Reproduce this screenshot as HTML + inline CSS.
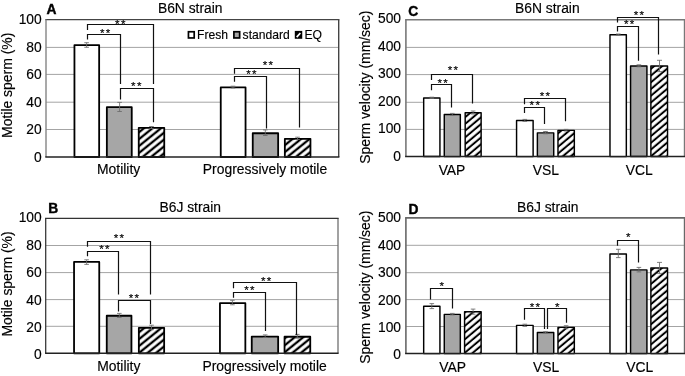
<!DOCTYPE html>
<html><head><meta charset="utf-8"><title>Figure</title>
<style>html,body{margin:0;padding:0;background:#fff;overflow:hidden}svg{display:block}text{font-family:"Liberation Sans", sans-serif;fill:#000;stroke:#000;stroke-width:.15px}</style>
</head><body>
<svg width="685" height="376" viewBox="0 0 685 376">
<defs><pattern id="hatch" patternUnits="userSpaceOnUse" width="5.36" height="5.36" patternTransform="rotate(-39)"><rect width="5.36" height="5.36" fill="#fff"/><rect y="1.5" width="5.36" height="2.3" fill="#000"/></pattern><pattern id="hatch2" patternUnits="userSpaceOnUse" width="5.15" height="5.15" patternTransform="rotate(-40)"><rect width="5.15" height="5.15" fill="#fff"/><rect y="1.5" width="5.15" height="2.0" fill="#000"/></pattern></defs>
<rect width="685" height="376" fill="#fff"/>
<line x1="46" y1="47.40" x2="338.7" y2="47.40" stroke="#a4a4a4" stroke-width="1"/>
<line x1="46" y1="74.40" x2="338.7" y2="74.40" stroke="#a4a4a4" stroke-width="1"/>
<line x1="46" y1="102.20" x2="338.7" y2="102.20" stroke="#a4a4a4" stroke-width="1"/>
<line x1="46" y1="129.50" x2="338.7" y2="129.50" stroke="#a4a4a4" stroke-width="1"/>
<path d="M338.7 19.6V157.0" fill="none" stroke="#444" stroke-width="1.4"/>
<path d="M45.3 19.6H339.4" fill="none" stroke="#444" stroke-width="1.4"/>
<text transform="translate(41.70 24.25) scale(1.0 1)" text-anchor="end" font-size="13.8">100</text>
<text transform="translate(41.70 51.75) scale(1.0 1)" text-anchor="end" font-size="13.8">80</text>
<text transform="translate(41.70 79.25) scale(1.0 1)" text-anchor="end" font-size="13.8">60</text>
<text transform="translate(41.70 106.75) scale(1.0 1)" text-anchor="end" font-size="13.8">40</text>
<text transform="translate(41.70 134.25) scale(1.0 1)" text-anchor="end" font-size="13.8">20</text>
<text transform="translate(41.70 161.75) scale(1.0 1)" text-anchor="end" font-size="13.8">0</text>
<rect x="74.45" y="45.05" width="24.70" height="111.95" fill="#fff" stroke="#000" stroke-width="1.8" stroke-linejoin="round"/>
<rect x="106.85" y="107.15" width="24.90" height="49.85" fill="#a6a6a6" stroke="#000" stroke-width="1.8" stroke-linejoin="round"/>
<rect x="138.75" y="127.85" width="25.50" height="29.15" fill="url(#hatch)" stroke="#000" stroke-width="1.8" stroke-linejoin="round"/>
<rect x="220.75" y="87.45" width="24.80" height="69.55" fill="#fff" stroke="#000" stroke-width="1.8" stroke-linejoin="round"/>
<rect x="252.75" y="133.25" width="25.40" height="23.75" fill="#a6a6a6" stroke="#000" stroke-width="1.8" stroke-linejoin="round"/>
<rect x="284.85" y="138.85" width="25.60" height="18.15" fill="url(#hatch)" stroke="#000" stroke-width="1.8" stroke-linejoin="round"/>
<path d="M46 19.6V157.0" fill="none" stroke="#858585" stroke-width="1.4"/>
<path d="M45.3 157.0H339.4" fill="none" stroke="#222" stroke-width="1.5"/>
<path d="M84.30 42.70h4.6M84.30 47.30h4.6M86.60 42.70V47.30" fill="none" stroke="#6c6c6c" stroke-width="0.85"/>
<path d="M117.30 102.40h4.6M117.30 111.50h4.6M119.60 102.40V111.50" fill="none" stroke="#6c6c6c" stroke-width="0.85"/>
<path d="M149.20 126.50h4.6M149.20 128.50h4.6M151.50 126.50V128.50" fill="none" stroke="#6c6c6c" stroke-width="0.85"/>
<path d="M230.70 86.20h4.6M230.70 88.00h4.6M233.00 86.20V88.00" fill="none" stroke="#6c6c6c" stroke-width="0.85"/>
<path d="M263.00 129.90h4.6M263.00 135.50h4.6M265.30 129.90V135.50" fill="none" stroke="#6c6c6c" stroke-width="0.85"/>
<path d="M295.20 137.20h4.6M295.20 139.50h4.6M297.50 137.20V139.50" fill="none" stroke="#6c6c6c" stroke-width="0.85"/>
<path d="M87.50 30.10V24.50H153.50V84.00" fill="none" stroke="#111" stroke-width="1.2"/>
<path d="M87.50 39.40V34.50H120.50V84.00" fill="none" stroke="#111" stroke-width="1.2"/>
<path d="M120.50 99.40V88.50H153.50V122.20" fill="none" stroke="#111" stroke-width="1.2"/>
<path d="M234.50 73.70V68.50H299.50V127.60" fill="none" stroke="#111" stroke-width="1.2"/>
<path d="M234.50 81.80V76.50H266.50V128.40" fill="none" stroke="#111" stroke-width="1.2"/>
<text transform="translate(120.90 28.10) scale(1 1)" text-anchor="middle" letter-spacing="1.3" font-size="11.6">**</text>
<text transform="translate(105.70 37.20) scale(1 1)" text-anchor="middle" letter-spacing="1.3" font-size="11.6">**</text>
<text transform="translate(136.90 89.90) scale(1 1)" text-anchor="middle" letter-spacing="1.3" font-size="11.6">**</text>
<text transform="translate(268.60 68.90) scale(1 1)" text-anchor="middle" letter-spacing="1.3" font-size="11.6">**</text>
<text transform="translate(252.10 78.10) scale(1 1)" text-anchor="middle" letter-spacing="1.3" font-size="11.6">**</text>
<text transform="translate(118.60 174.00) scale(1.0 1)" text-anchor="middle" font-size="13.9">Motility</text>
<text transform="translate(265.00 174.00) scale(1.0 1)" text-anchor="middle" font-size="13.9">Progressively motile</text>
<text transform="translate(157.90 12.50) scale(1.0 1)" font-size="13.85">B6N strain</text>
<text transform="translate(46.50 13.70) scale(1.0 1)" font-weight="bold" style="stroke-width:.4px" font-size="13.8">A</text>
<text transform="translate(12.10 85.30) rotate(-90) scale(1.01 1)" text-anchor="middle" font-size="13.8">Motile sperm (%)</text>
<line x1="45.7" y1="245.50" x2="338" y2="245.50" stroke="#a4a4a4" stroke-width="1"/>
<line x1="45.7" y1="272.60" x2="338" y2="272.60" stroke="#a4a4a4" stroke-width="1"/>
<line x1="45.7" y1="299.60" x2="338" y2="299.60" stroke="#a4a4a4" stroke-width="1"/>
<line x1="45.7" y1="326.30" x2="338" y2="326.30" stroke="#a4a4a4" stroke-width="1"/>
<path d="M338 218.3V353.3" fill="none" stroke="#6a6a6a" stroke-width="1.25"/>
<path d="M45.075 218.3H338.625" fill="none" stroke="#333" stroke-width="1.25"/>
<text transform="translate(41.70 222.25) scale(1.0 1)" text-anchor="end" font-size="13.8">100</text>
<text transform="translate(41.70 249.67) scale(1.0 1)" text-anchor="end" font-size="13.8">80</text>
<text transform="translate(41.70 277.09) scale(1.0 1)" text-anchor="end" font-size="13.8">60</text>
<text transform="translate(41.70 304.51) scale(1.0 1)" text-anchor="end" font-size="13.8">40</text>
<text transform="translate(41.70 331.93) scale(1.0 1)" text-anchor="end" font-size="13.8">20</text>
<text transform="translate(41.70 359.35) scale(1.0 1)" text-anchor="end" font-size="13.8">0</text>
<rect x="74.05" y="261.95" width="25.20" height="91.35" fill="#fff" stroke="#000" stroke-width="1.8" stroke-linejoin="round"/>
<rect x="106.75" y="315.75" width="24.70" height="37.55" fill="#a6a6a6" stroke="#000" stroke-width="1.8" stroke-linejoin="round"/>
<rect x="138.85" y="327.85" width="25.30" height="25.45" fill="url(#hatch)" stroke="#000" stroke-width="1.8" stroke-linejoin="round"/>
<rect x="219.95" y="303.15" width="25.40" height="50.15" fill="#fff" stroke="#000" stroke-width="1.8" stroke-linejoin="round"/>
<rect x="251.75" y="336.55" width="26.40" height="16.75" fill="#a6a6a6" stroke="#000" stroke-width="1.8" stroke-linejoin="round"/>
<rect x="284.55" y="336.75" width="25.70" height="16.55" fill="url(#hatch)" stroke="#000" stroke-width="1.8" stroke-linejoin="round"/>
<path d="M45.7 218.3V353.3" fill="none" stroke="#333" stroke-width="1.25"/>
<path d="M45.075 353.3H338.625" fill="none" stroke="#222" stroke-width="1.5"/>
<path d="M84.30 259.80h4.6M84.30 264.40h4.6M86.60 259.80V264.40" fill="none" stroke="#6c6c6c" stroke-width="0.85"/>
<path d="M117.00 313.40h4.6M117.00 317.40h4.6M119.30 313.40V317.40" fill="none" stroke="#6c6c6c" stroke-width="0.85"/>
<path d="M149.20 325.20h4.6M149.20 329.70h4.6M151.50 325.20V329.70" fill="none" stroke="#6c6c6c" stroke-width="0.85"/>
<path d="M230.10 300.30h4.6M230.10 304.80h4.6M232.40 300.30V304.80" fill="none" stroke="#6c6c6c" stroke-width="0.85"/>
<path d="M262.90 334.90h4.6M262.90 337.50h4.6M265.20 334.90V337.50" fill="none" stroke="#6c6c6c" stroke-width="0.85"/>
<path d="M295.00 334.40h4.6M295.00 338.20h4.6M297.30 334.40V338.20" fill="none" stroke="#6c6c6c" stroke-width="0.85"/>
<path d="M87.50 246.80V241.50H150.50V294.50" fill="none" stroke="#111" stroke-width="1.2"/>
<path d="M87.50 256.30V251.50H118.50V294.50" fill="none" stroke="#111" stroke-width="1.2"/>
<path d="M118.50 311.40V300.50H150.50V324.00" fill="none" stroke="#111" stroke-width="1.2"/>
<path d="M233.50 288.20V282.50H296.50V334.90" fill="none" stroke="#111" stroke-width="1.2"/>
<path d="M233.50 297.80V292.50H265.50V331.10" fill="none" stroke="#111" stroke-width="1.2"/>
<text transform="translate(119.60 241.90) scale(1 1)" text-anchor="middle" letter-spacing="1.3" font-size="11.6">**</text>
<text transform="translate(105.10 253.10) scale(1 1)" text-anchor="middle" letter-spacing="1.3" font-size="11.6">**</text>
<text transform="translate(134.60 301.50) scale(1 1)" text-anchor="middle" letter-spacing="1.3" font-size="11.6">**</text>
<text transform="translate(266.80 284.50) scale(1 1)" text-anchor="middle" letter-spacing="1.3" font-size="11.6">**</text>
<text transform="translate(250.10 294.10) scale(1 1)" text-anchor="middle" letter-spacing="1.3" font-size="11.6">**</text>
<text transform="translate(118.80 371.00) scale(1.0 1)" text-anchor="middle" font-size="13.9">Motility</text>
<text transform="translate(264.60 371.00) scale(1.0 1)" text-anchor="middle" font-size="13.9">Progressively motile</text>
<text transform="translate(159.50 211.80) scale(1.0 1)" font-size="13.85">B6J strain</text>
<text transform="translate(48.30 212.60) scale(1.0 1)" font-weight="bold" style="stroke-width:.4px" font-size="13.8">B</text>
<text transform="translate(12.10 284.00) rotate(-90) scale(1.01 1)" text-anchor="middle" font-size="13.8">Motile sperm (%)</text>
<line x1="405.9" y1="47.40" x2="684.6" y2="47.40" stroke="#a4a4a4" stroke-width="1"/>
<line x1="405.9" y1="74.60" x2="684.6" y2="74.60" stroke="#a4a4a4" stroke-width="1"/>
<line x1="405.9" y1="102.30" x2="684.6" y2="102.30" stroke="#a4a4a4" stroke-width="1"/>
<line x1="405.9" y1="129.40" x2="684.6" y2="129.40" stroke="#a4a4a4" stroke-width="1"/>
<path d="M684.6 19.8V156.6" fill="none" stroke="#787878" stroke-width="1.6"/>
<path d="M405.09999999999997 19.8H685.4" fill="none" stroke="#787878" stroke-width="1.6"/>
<text transform="translate(401.00 23.35) scale(1.0 1)" text-anchor="end" font-size="13.8">500</text>
<text transform="translate(401.00 50.80) scale(1.0 1)" text-anchor="end" font-size="13.8">400</text>
<text transform="translate(401.00 78.25) scale(1.0 1)" text-anchor="end" font-size="13.8">300</text>
<text transform="translate(401.00 105.70) scale(1.0 1)" text-anchor="end" font-size="13.8">200</text>
<text transform="translate(401.00 133.15) scale(1.0 1)" text-anchor="end" font-size="13.8">100</text>
<text transform="translate(401.00 160.60) scale(1.0 1)" text-anchor="end" font-size="13.8">0</text>
<rect x="423.68" y="97.97" width="16.25" height="58.62" fill="#fff" stroke="#000" stroke-width="1.45" stroke-linejoin="round"/>
<rect x="444.28" y="114.58" width="16.05" height="42.02" fill="#a6a6a6" stroke="#000" stroke-width="1.45" stroke-linejoin="round"/>
<rect x="465.18" y="112.77" width="15.95" height="43.82" fill="url(#hatch2)" stroke="#000" stroke-width="1.45" stroke-linejoin="round"/>
<rect x="516.57" y="120.58" width="16.55" height="36.02" fill="#fff" stroke="#000" stroke-width="1.45" stroke-linejoin="round"/>
<rect x="537.38" y="132.87" width="16.35" height="23.73" fill="#a6a6a6" stroke="#000" stroke-width="1.45" stroke-linejoin="round"/>
<rect x="557.98" y="130.37" width="16.35" height="26.23" fill="url(#hatch2)" stroke="#000" stroke-width="1.45" stroke-linejoin="round"/>
<rect x="609.98" y="34.78" width="16.35" height="121.82" fill="#fff" stroke="#000" stroke-width="1.45" stroke-linejoin="round"/>
<rect x="630.57" y="65.97" width="16.35" height="90.62" fill="#a6a6a6" stroke="#000" stroke-width="1.45" stroke-linejoin="round"/>
<rect x="650.88" y="65.97" width="16.65" height="90.62" fill="url(#hatch2)" stroke="#000" stroke-width="1.45" stroke-linejoin="round"/>
<path d="M405.9 19.8V156.6" fill="none" stroke="#787878" stroke-width="1.6"/>
<path d="M405.09999999999997 156.6H685.4" fill="none" stroke="#222" stroke-width="1.5"/>
<path d="M429.50 97.20h4.6M429.50 98.40h4.6M431.80 97.20V98.40" fill="none" stroke="#6c6c6c" stroke-width="0.85"/>
<path d="M450.00 113.40h4.6M450.00 115.40h4.6M452.30 113.40V115.40" fill="none" stroke="#6c6c6c" stroke-width="0.85"/>
<path d="M470.80 111.00h4.6M470.80 114.00h4.6M473.10 111.00V114.00" fill="none" stroke="#6c6c6c" stroke-width="0.85"/>
<path d="M522.50 119.40h4.6M522.50 121.40h4.6M524.80 119.40V121.40" fill="none" stroke="#6c6c6c" stroke-width="0.85"/>
<path d="M543.20 131.50h4.6M543.20 133.80h4.6M545.50 131.50V133.80" fill="none" stroke="#6c6c6c" stroke-width="0.85"/>
<path d="M563.80 129.40h4.6M563.80 131.00h4.6M566.10 129.40V131.00" fill="none" stroke="#6c6c6c" stroke-width="0.85"/>
<path d="M616.00 34.00h4.6M616.00 35.20h4.6M618.30 34.00V35.20" fill="none" stroke="#6c6c6c" stroke-width="0.85"/>
<path d="M636.60 64.80h4.6M636.60 66.80h4.6M638.90 64.80V66.80" fill="none" stroke="#6c6c6c" stroke-width="0.85"/>
<path d="M657.00 60.30h5M657.00 71.60h5M659.50 60.30V71.60" fill="none" stroke="#6c6c6c" stroke-width="0.85"/>
<path d="M431.50 80.10V74.50H472.50V103.50" fill="none" stroke="#111" stroke-width="1.2"/>
<path d="M431.50 90.20V84.50H451.50V107.50" fill="none" stroke="#111" stroke-width="1.2"/>
<path d="M524.50 104.30V98.50H565.50V121.20" fill="none" stroke="#111" stroke-width="1.2"/>
<path d="M524.50 113.10V107.50H544.50V123.90" fill="none" stroke="#111" stroke-width="1.2"/>
<path d="M617.50 22.60V17.50H658.50V54.50" fill="none" stroke="#111" stroke-width="1.2"/>
<path d="M617.50 31.40V26.50H638.50V60.80" fill="none" stroke="#111" stroke-width="1.2"/>
<text transform="translate(453.60 74.40) scale(1 1)" text-anchor="middle" letter-spacing="1.3" font-size="11.6">**</text>
<text transform="translate(443.30 87.30) scale(1 1)" text-anchor="middle" letter-spacing="1.3" font-size="11.6">**</text>
<text transform="translate(545.60 99.50) scale(1 1)" text-anchor="middle" letter-spacing="1.3" font-size="11.6">**</text>
<text transform="translate(535.40 108.50) scale(1 1)" text-anchor="middle" letter-spacing="1.3" font-size="11.6">**</text>
<text transform="translate(639.50 18.70) scale(1 1)" text-anchor="middle" letter-spacing="1.3" font-size="11.6">**</text>
<text transform="translate(629.80 27.70) scale(1 1)" text-anchor="middle" letter-spacing="1.3" font-size="11.6">**</text>
<text transform="translate(452.00 175.00) scale(1.0 1)" text-anchor="middle" font-size="13.9">VAP</text>
<text transform="translate(545.90 175.00) scale(1.0 1)" text-anchor="middle" font-size="13.9">VSL</text>
<text transform="translate(639.30 175.00) scale(1.0 1)" text-anchor="middle" font-size="13.9">VCL</text>
<text transform="translate(515.00 12.60) scale(1.0 1)" font-size="13.85">B6N strain</text>
<text transform="translate(408.30 15.60) scale(1.0 1)" font-weight="bold" style="stroke-width:.4px" font-size="13.8">C</text>
<text transform="translate(370.00 87.20) rotate(-90) scale(1.01 1)" text-anchor="middle" font-size="13.8">Sperm velocity (mm/sec)</text>
<line x1="405.9" y1="245.30" x2="684.6" y2="245.30" stroke="#a4a4a4" stroke-width="1"/>
<line x1="405.9" y1="272.70" x2="684.6" y2="272.70" stroke="#a4a4a4" stroke-width="1"/>
<line x1="405.9" y1="299.60" x2="684.6" y2="299.60" stroke="#a4a4a4" stroke-width="1"/>
<line x1="405.9" y1="326.50" x2="684.6" y2="326.50" stroke="#a4a4a4" stroke-width="1"/>
<path d="M684.6 217.9V353.6" fill="none" stroke="#686868" stroke-width="1.6"/>
<path d="M405.09999999999997 217.9H685.4" fill="none" stroke="#686868" stroke-width="1.6"/>
<text transform="translate(401.00 222.25) scale(1.0 1)" text-anchor="end" font-size="13.8">500</text>
<text transform="translate(401.00 249.67) scale(1.0 1)" text-anchor="end" font-size="13.8">400</text>
<text transform="translate(401.00 277.09) scale(1.0 1)" text-anchor="end" font-size="13.8">300</text>
<text transform="translate(401.00 304.51) scale(1.0 1)" text-anchor="end" font-size="13.8">200</text>
<text transform="translate(401.00 331.93) scale(1.0 1)" text-anchor="end" font-size="13.8">100</text>
<text transform="translate(401.00 359.35) scale(1.0 1)" text-anchor="end" font-size="13.8">0</text>
<rect x="423.68" y="306.28" width="16.25" height="47.33" fill="#fff" stroke="#000" stroke-width="1.45" stroke-linejoin="round"/>
<rect x="444.28" y="314.38" width="16.05" height="39.23" fill="#a6a6a6" stroke="#000" stroke-width="1.45" stroke-linejoin="round"/>
<rect x="464.58" y="311.78" width="16.55" height="41.83" fill="url(#hatch2)" stroke="#000" stroke-width="1.45" stroke-linejoin="round"/>
<rect x="516.57" y="325.38" width="16.55" height="28.23" fill="#fff" stroke="#000" stroke-width="1.45" stroke-linejoin="round"/>
<rect x="537.38" y="332.48" width="16.35" height="21.13" fill="#a6a6a6" stroke="#000" stroke-width="1.45" stroke-linejoin="round"/>
<rect x="557.98" y="327.38" width="16.35" height="26.23" fill="url(#hatch2)" stroke="#000" stroke-width="1.45" stroke-linejoin="round"/>
<rect x="609.98" y="253.97" width="16.35" height="99.63" fill="#fff" stroke="#000" stroke-width="1.45" stroke-linejoin="round"/>
<rect x="630.57" y="269.88" width="16.35" height="83.73" fill="#a6a6a6" stroke="#000" stroke-width="1.45" stroke-linejoin="round"/>
<rect x="650.88" y="268.07" width="16.65" height="85.53" fill="url(#hatch2)" stroke="#000" stroke-width="1.45" stroke-linejoin="round"/>
<path d="M405.9 217.9V353.6" fill="none" stroke="#686868" stroke-width="1.6"/>
<path d="M405.09999999999997 353.6H685.4" fill="none" stroke="#222" stroke-width="1.5"/>
<path d="M429.50 303.60h4.6M429.50 308.60h4.6M431.80 303.60V308.60" fill="none" stroke="#6c6c6c" stroke-width="0.85"/>
<path d="M450.00 313.40h4.6M450.00 314.90h4.6M452.30 313.40V314.90" fill="none" stroke="#6c6c6c" stroke-width="0.85"/>
<path d="M470.80 309.10h4.6M470.80 314.20h4.6M473.10 309.10V314.20" fill="none" stroke="#6c6c6c" stroke-width="0.85"/>
<path d="M522.50 324.20h4.6M522.50 326.40h4.6M524.80 324.20V326.40" fill="none" stroke="#6c6c6c" stroke-width="0.85"/>
<path d="M543.20 331.70h4.6M543.20 333.00h4.6M545.50 331.70V333.00" fill="none" stroke="#6c6c6c" stroke-width="0.85"/>
<path d="M563.80 325.70h4.6M563.80 328.70h4.6M566.10 325.70V328.70" fill="none" stroke="#6c6c6c" stroke-width="0.85"/>
<path d="M616.00 249.30h4.6M616.00 257.60h4.6M618.30 249.30V257.60" fill="none" stroke="#6c6c6c" stroke-width="0.85"/>
<path d="M636.60 267.40h4.6M636.60 271.90h4.6M638.90 267.40V271.90" fill="none" stroke="#6c6c6c" stroke-width="0.85"/>
<path d="M657.00 262.40h5M657.00 273.40h5M659.50 262.40V273.40" fill="none" stroke="#6c6c6c" stroke-width="0.85"/>
<path d="M430.50 299.60V288.50H452.50V308.40" fill="none" stroke="#111" stroke-width="1.2"/>
<path d="M524.50 319.80V308.50H544.50V329.00" fill="none" stroke="#111" stroke-width="1.2"/>
<path d="M547.50 329.00V308.50H566.50V322.70" fill="none" stroke="#111" stroke-width="1.2"/>
<path d="M617.50 245.80V240.50H638.50V262.60" fill="none" stroke="#111" stroke-width="1.2"/>
<text transform="translate(442.30 290.30) scale(1 1)" text-anchor="middle" letter-spacing="1.3" font-size="11.6">*</text>
<text transform="translate(535.60 310.90) scale(1 1)" text-anchor="middle" letter-spacing="1.3" font-size="11.6">**</text>
<text transform="translate(558.00 310.90) scale(1 1)" text-anchor="middle" letter-spacing="1.3" font-size="11.6">*</text>
<text transform="translate(628.90 240.90) scale(1 1)" text-anchor="middle" letter-spacing="1.3" font-size="11.6">*</text>
<text transform="translate(452.60 371.60) scale(1.0 1)" text-anchor="middle" font-size="13.9">VAP</text>
<text transform="translate(546.10 371.60) scale(1.0 1)" text-anchor="middle" font-size="13.9">VSL</text>
<text transform="translate(639.80 371.60) scale(1.0 1)" text-anchor="middle" font-size="13.9">VCL</text>
<text transform="translate(517.00 211.60) scale(1.0 1)" font-size="13.85">B6J strain</text>
<text transform="translate(408.60 213.60) scale(1.0 1)" font-weight="bold" style="stroke-width:.4px" font-size="13.8">D</text>
<text transform="translate(370.00 287.20) rotate(-90) scale(1.01 1)" text-anchor="middle" font-size="13.8">Sperm velocity (mm/sec)</text>
<defs><pattern id="hatchL" patternUnits="userSpaceOnUse" width="8" height="8" patternTransform="translate(295.2 31.7)"><rect width="8" height="8" fill="#fff"/><path d="M0 0H5L0 5Z" fill="#000"/></pattern></defs>
<rect x="188.45" y="31.75" width="5.75" height="6.2" fill="#fff" stroke="#000" stroke-width="1.7"/>
<text transform="translate(197.00 38.70) scale(0.98 1)" font-size="12.4">Fresh</text>
<rect x="233.90" y="31.75" width="5.75" height="6.2" fill="#a6a6a6" stroke="#000" stroke-width="1.7"/>
<text transform="translate(242.60 38.70) scale(0.98 1)" font-size="12.4">standard</text>
<rect x="295.65" y="31.75" width="5.75" height="6.2" fill="#000" stroke="#000" stroke-width="1.7"/>
<path d="M296.70 37.10L300.40 33.00" stroke="#fff" stroke-width="1.7" fill="none"/>
<text transform="translate(304.40 38.70) scale(0.98 1)" font-size="12.4">EQ</text>
</svg></body></html>
